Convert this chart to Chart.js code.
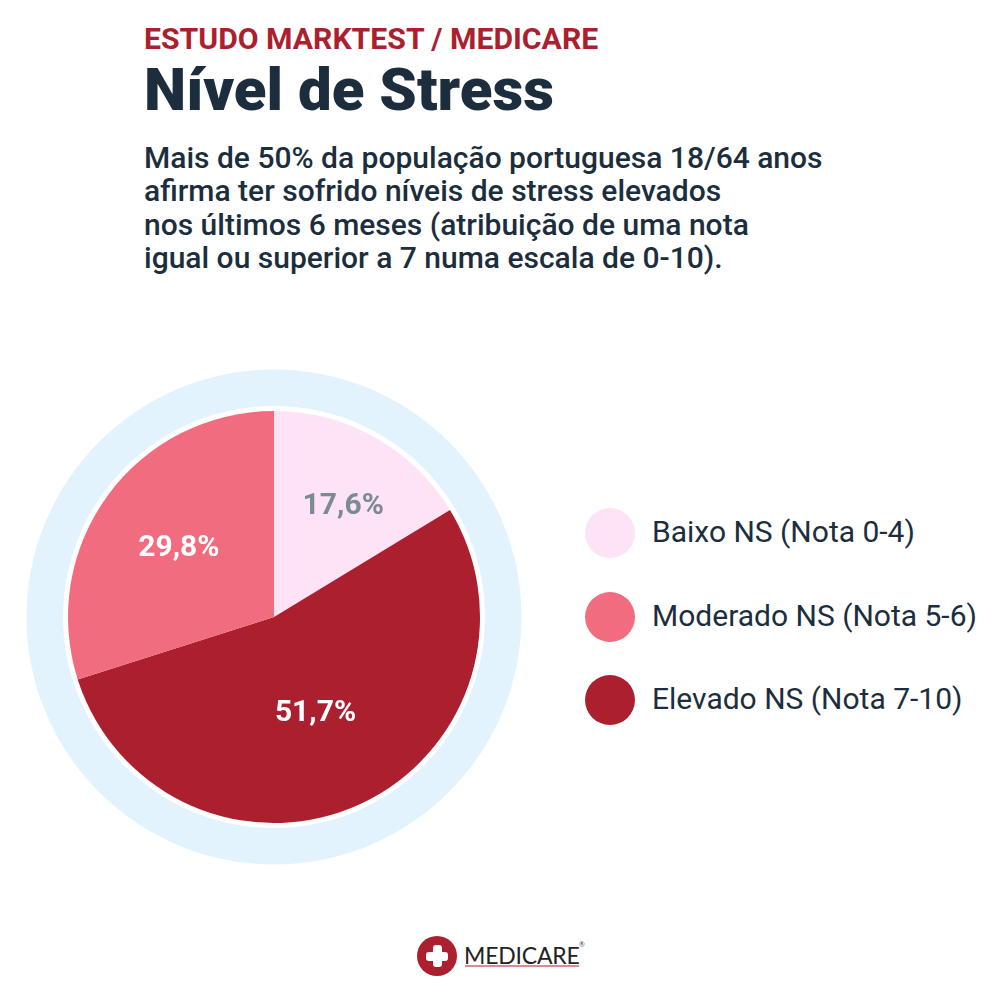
<!DOCTYPE html>
<html>
<head>
<meta charset="utf-8">
<script src="https://cdn.jsdelivr.net/npm/chart.js@4"></script>
<style>
  html, body { margin: 0; padding: 0; background: #fff; }
  body { position: relative; width: 1000px; height: 1000px; overflow: hidden; font-family: Roboto, sans-serif; color: #1c2e3d; }
  .abs { position: absolute; white-space: nowrap; }
  #kicker { left: 144px; top: 22px; font-size: 30.2px; font-weight: 700; color: #ac1f2f; line-height: 34px; }
  #title { left: 144px; top: 57px; font-size: 60px; font-weight: 900; line-height: 66px; }
  #intro { left: 144px; top: 141px; font-size: 30px; font-weight: 500; line-height: 33.3px; }
  #chartBox { position: absolute; left: 0; top: 340px; width: 548px; height: 554px; }
  .swatch { position: absolute; left: 585px; width: 50px; height: 50px; border-radius: 50%; }
  .legendText { position: absolute; left: 652px; font-size: 30px; line-height: 32px; white-space: nowrap; }
  #logoDot { position: absolute; left: 417px; top: 936px; width: 40px; height: 40px; border-radius: 50%; background: #ac1f2f; }
  .cross { position: absolute; background: #fff; border-radius: 3px; }
  #logoText { left: 464px; top: 941px; font-family: Lato, sans-serif; font-size: 23px; line-height: 28px; color: #222; letter-spacing: -0.2px; }
  #logoLine { position: absolute; left: 465px; top: 965px; width: 114px; height: 2px; background: #d98a94; }
  #logoMark { left: 579px; top: 940px; font-family: Lato, sans-serif; font-size: 7px; line-height: 8px; color: #444; }
</style>
</head>
<body>
<div class="abs" id="kicker">ESTUDO MARKTEST / MEDICARE</div>
<div class="abs" id="title">Nível de Stress</div>
<div class="abs" id="intro">Mais de 50% da população portuguesa 18/64 anos<br>afirma ter sofrido níveis de stress elevados<br>nos últimos 6 meses (atribuição de uma nota<br>igual ou superior a 7 numa escala de 0-10).</div>

<div id="chartBox"><canvas id="myChart"></canvas></div>
<div id="legend"></div>

<div id="logoDot">
  <div class="cross" style="left:15.5px;top:9px;width:9px;height:22px"></div>
  <div class="cross" style="left:9px;top:15.5px;width:22px;height:9px"></div>
</div>
<div class="abs" id="logoText">MEDICARE</div>
<div id="logoLine"></div>
<div class="abs" id="logoMark">®</div>

<script>
// slices in drawing order, clockwise from the top
var categories = ['Baixo NS (Nota 0-4)', 'Elevado NS (Nota 7-10)', 'Moderado NS (Nota 5-6)'];
// printed values
var sliceLabels = ['17,6%', '51,7%', '29,8%'];
// the slices in the picture are not quite proportional to the printed values,
// so these shares are read off the slice angles
var sliceShares = [16.3, 53.8, 29.9];
var sliceColors = ['#fde3f5', '#ac1f2f', '#f16c7f'];
var labelColors = ['#7c8a94', '#ffffff', '#ffffff'];
var labelRadius = [0.646, 0.498, 0.578];
var labelNudgeX = [4, -1, 1];
var labelNudgeY = [6, 3, 2];
var legendOrder = [0, 2, 1];

legendOrder.forEach(function (i, row) {
    var swatch = document.createElement('div');
    swatch.className = 'swatch';
    swatch.style.top = (508 + row * 83.5) + 'px';
    swatch.style.background = sliceColors[i];
    document.body.appendChild(swatch);
    var text = document.createElement('div');
    text.className = 'legendText';
    text.style.top = (516 + row * 83.5) + 'px';
    text.textContent = categories[i];
    document.body.appendChild(text);
});

// pale ring and white gap behind the pie
var ringPlugin = {
    id: 'ring',
    beforeDatasetsDraw: function (chart) {
        var arc = chart.getDatasetMeta(0).data[0];
        var ctx = chart.ctx;
        ctx.save();
        ctx.fillStyle = '#e2f3fe';
        ctx.beginPath();
        ctx.arc(arc.x, arc.y, arc.outerRadius + 41.5, 0, Math.PI * 2);
        ctx.fill();
        ctx.fillStyle = '#ffffff';
        ctx.beginPath();
        ctx.arc(arc.x, arc.y, arc.outerRadius + 5, 0, Math.PI * 2);
        ctx.fill();
        ctx.restore();
    }
};

var sliceLabelPlugin = {
    id: 'sliceLabels',
    afterDatasetsDraw: function (chart) {
        var ctx = chart.ctx;
        ctx.save();
        ctx.font = '700 30px Roboto';
        ctx.textAlign = 'center';
        ctx.textBaseline = 'middle';
        chart.getDatasetMeta(0).data.forEach(function (arc, i) {
            var mid = (arc.startAngle + arc.endAngle) / 2;
            var r = arc.outerRadius * labelRadius[i];
            ctx.fillStyle = labelColors[i];
            ctx.fillText(sliceLabels[i], arc.x + Math.cos(mid) * r + labelNudgeX[i], arc.y + Math.sin(mid) * r + labelNudgeY[i]);
        });
        ctx.restore();
    }
};

new Chart(document.getElementById('myChart'), {
    type: 'pie',
    data: {
        labels: categories,
        datasets: [{
            data: sliceShares,
            backgroundColor: sliceColors,
            borderWidth: 0
        }]
    },
    options: {
        responsive: true,
        maintainAspectRatio: false,
        animation: false,
        radius: 206,
        plugins: { legend: { display: false }, tooltip: { enabled: false } }
    },
    plugins: [ringPlugin, sliceLabelPlugin]
});
</script>
</body>
</html>
